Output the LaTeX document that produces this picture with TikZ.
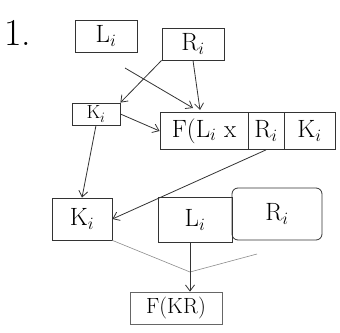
\documentclass[tikz,border=0pt]{standalone}
\usepackage{fontspec}
\usetikzlibrary{arrows.meta}
\begin{document}
\begin{tikzpicture}[x=1pt,y=-1pt,
  bx/.style={draw=black!80,line width=0.8pt,inner sep=0pt,font=\fontsize{25}{28}\selectfont},
  ar/.style={draw=black!80,line width=0.8pt,-{Straight Barb[length=6pt,width=9pt]}},
  ln/.style={draw=black!45,line width=0.6pt}]
\useasboundingbox (0,0) rectangle (340,332);
\node[font=\fontsize{38}{40}\selectfont] (one) at (18,33) {1.};
\node[bx,minimum width=62pt,minimum height=32pt] (Li) at (106,36) {L$_i$};
\node[bx,minimum width=62pt,minimum height=32pt] (Ri) at (193,44) {R$_i$};
\node[bx,minimum width=48pt,minimum height=22pt,font=\fontsize{19}{22}\selectfont] (K) at (96,114) {K$_i$};
\node[bx,minimum width=88pt,minimum height=37pt] (F1) at (204,131) {F(L$_i$ x};
\node[bx,minimum width=36pt,minimum height=37pt] (F2) at (266,131) {R$_i$};
\node[bx,minimum width=51pt,minimum height=37pt] (F3) at (309.5,131) {K$_i$};
\node[bx,minimum width=60pt,minimum height=42pt] (Kb) at (82,219) {K$_i$};
\node[bx,minimum width=74pt,minimum height=45pt] (Lb) at (195,220) {L$_i$};
\node[bx,minimum width=90pt,minimum height=52pt,rounded corners=6pt] (Rb) at (277,214) {R$_i$};
\node[bx,minimum width=92pt,minimum height=32pt,draw=black!60,font=\fontsize{22}{24}\selectfont] (Fo) at (176,308) {F(KR)};
\coordinate (c1) at (125,68);
\coordinate (c2) at (193,108);
\coordinate (c3) at (200,110);
\coordinate (j) at (190,272);
\coordinate (r1) at (257,254);
\draw[ar] (Ri.south west) -- (K.north east);
\draw[ar] (c1) -- (c2);
\draw[ar] (Ri.south) -- (c3);
\draw[ar] (K.east) -- (F1.west);
\draw[ar] (K.south) -- (Kb.north);
\draw[ar] (F2.south) -- (Kb.east);
\draw[ln] (Kb.south east) -- (j);
\draw[ln] (r1) -- (j);
\draw[ar] (Lb.south -| j) -- (Fo.north -| j);
\end{tikzpicture}
\end{document}
